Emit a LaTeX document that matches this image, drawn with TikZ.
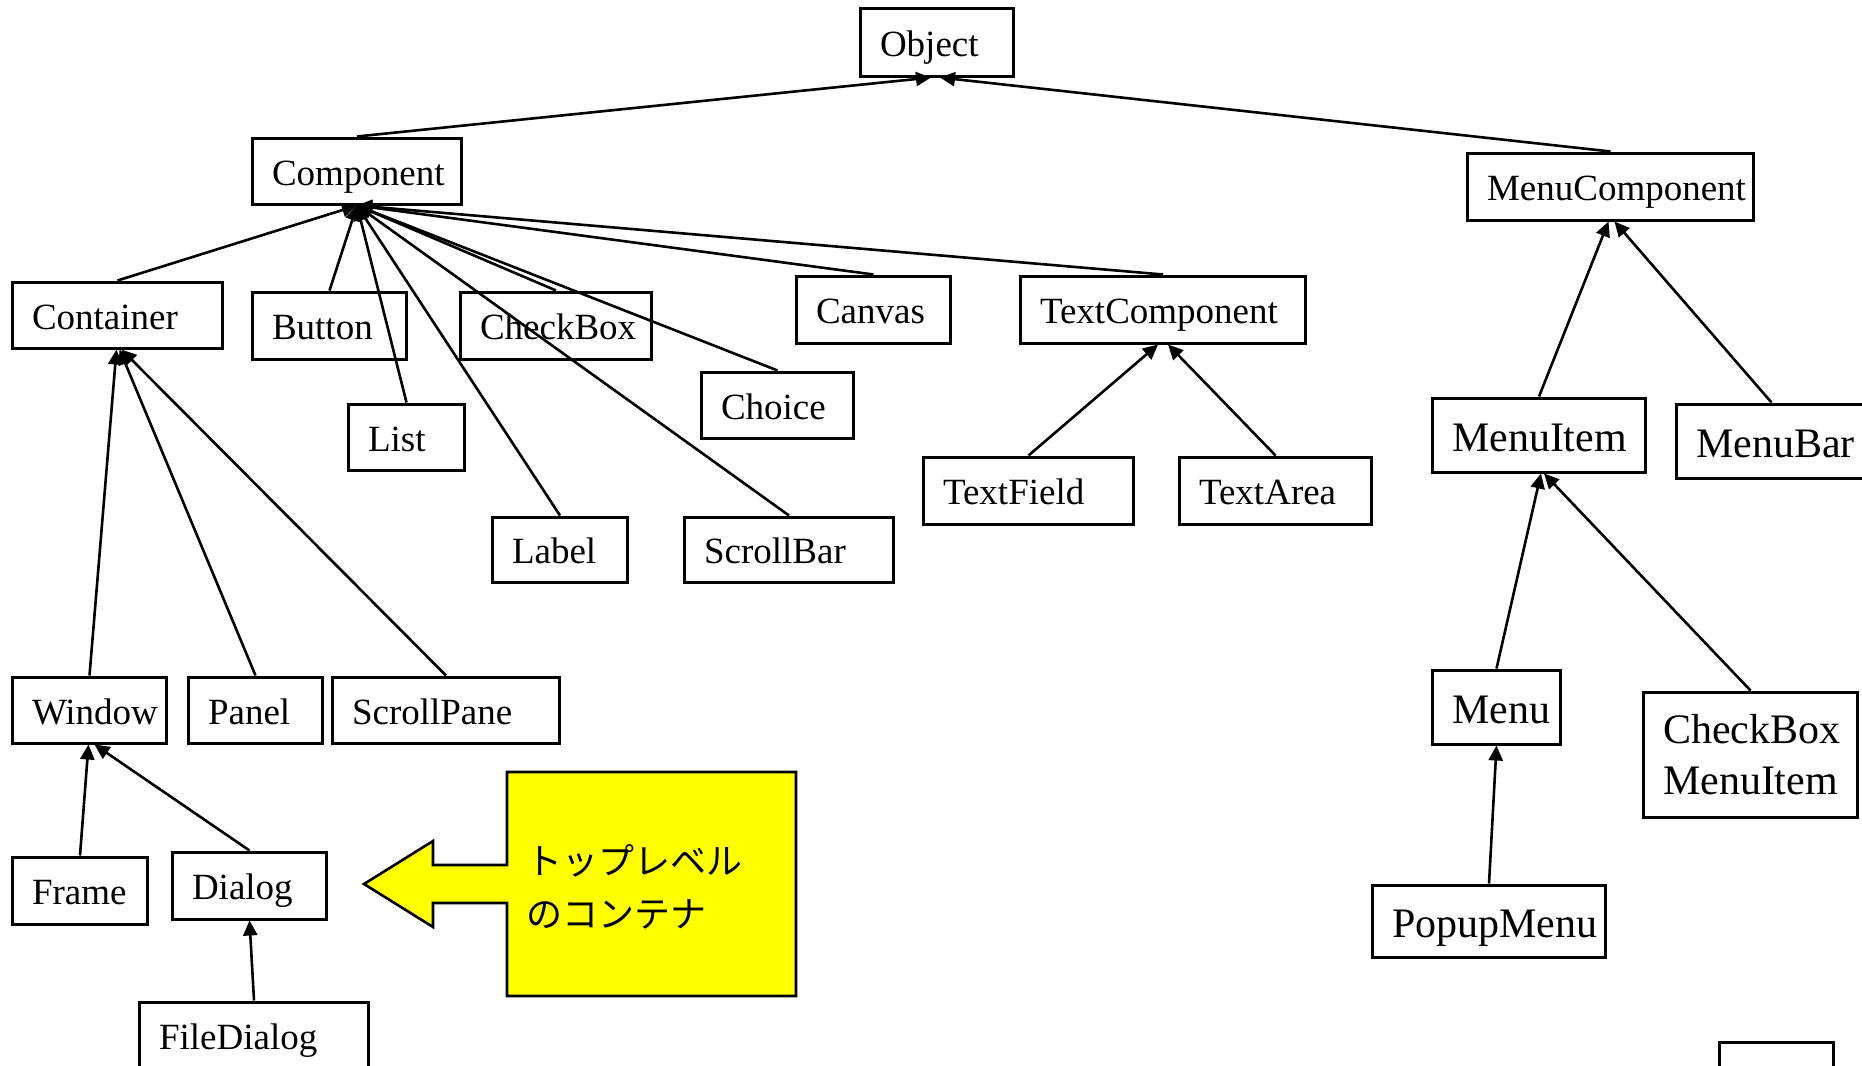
\documentclass[tikz,border=0pt]{standalone}
\usepackage{fontspec}
\setmainfont{Liberation Serif}
\newfontfamily\jpfont{Noto Sans CJK JP}
\usetikzlibrary{arrows.meta}
\definecolor{calloutyellow}{RGB}{255,255,0}
\newcommand\classbox[7]{%
  \pgfmathsetmacro\cbw{#4-#2}%
  \pgfmathsetmacro\cbh{#5-#3}%
  \pgfmathsetmacro\cbt{#4-#2-39}%
  \pgfmathsetmacro\cbx{(#2+#4)/2+0.5}%
  \pgfmathsetmacro\cby{(#3+#5)/2}%
  \node[#6, minimum width=\cbw pt, minimum height=\cbh pt, text width=\cbt pt] (#1) at (\cbx,\cby) {#7};}
\begin{document}
\begin{tikzpicture}[x=1pt,y=-1pt,
  box/.style={draw, line width=3pt, rectangle, inner xsep=19.5pt, inner ysep=0pt, align=left},
  sm/.style={box, font=\fontsize{37}{44}\selectfont, text height=28.5pt, text depth=0pt},
  lg/.style={box, font=\fontsize{42}{51}\selectfont, text height=32.5pt, text depth=0pt},
  lgtwo/.style={box, font=\fontsize{42}{51}\selectfont},
  edge/.style={line width=2.6pt, -{Triangle[length=15pt,width=14pt]}},
  callout/.style={line width=2.6pt, fill=calloutyellow, draw=black, line join=miter}]
\useasboundingbox (0,0) rectangle (1862,1065);
% class boxes
\classbox{obj}{860}{9}{1013}{76}{sm}{Object}
\classbox{comp}{252}{138}{461}{204}{sm}{Component}
\classbox{mcomp}{1467}{153}{1753}{220}{sm}{MenuComponent}
\classbox{cont}{12}{282}{222}{348}{sm}{Container}
\classbox{button}{252}{292}{406}{359}{sm}{Button}
\classbox{checkbox}{460}{292}{651}{359}{sm}{CheckBox}
\classbox{canvas}{796}{276}{950}{343}{sm}{Canvas}
\classbox{textcomp}{1020}{276}{1305}{343}{sm}{TextComponent}
\classbox{choice}{701}{372}{853}{438}{sm}{Choice}
\classbox{list}{348}{404}{464}{470}{sm}{List}
\classbox{label}{492}{517}{627}{582}{sm}{Label}
\classbox{scrollbar}{684}{517}{893}{582}{sm}{ScrollBar}
\classbox{textfield}{923}{457}{1133}{524}{sm}{TextField}
\classbox{textarea}{1179}{457}{1371}{524}{sm}{TextArea}
\classbox{window}{12}{677}{166}{743}{sm}{Window}
\classbox{panel}{188}{677}{322}{743}{sm}{Panel}
\classbox{scrollpane}{332}{677}{559}{743}{sm}{ScrollPane}
\classbox{frame}{12}{857}{147}{924}{sm}{Frame}
\classbox{dialog}{172}{852}{326}{919}{sm}{Dialog}
\classbox{filedialog}{139}{1002}{368}{1069}{sm}{FileDialog}
\classbox{menuitem}{1432}{398}{1645}{472}{lg}{MenuItem}
\classbox{menubar}{1676}{404}{1866}{478}{lg}{MenuBar}
\classbox{menu}{1432}{670}{1560}{744}{lg}{Menu}
\classbox{cbmi}{1643}{692}{1857}{817}{lgtwo}{CheckBox\\MenuItem}
\classbox{popup}{1372}{885}{1605}{957}{lg}{PopupMenu}
\draw[line width=3pt] (1719,1085) -- (1719,1042) -- (1833,1042) -- (1833,1085);
% connectors
\draw[edge] (comp.north) -- ([xshift=-6pt]obj.south);
\draw[edge] (mcomp.north) -- ([xshift=3pt]obj.south);
\foreach \c in {cont,button,list,label,checkbox,scrollbar,choice,canvas,textcomp}
  \draw[edge] (\c.north) -- (comp.south);
\draw[edge] (window.north) -- ([xshift=-1pt]cont.south);
\draw[edge] (panel.north) -- ([xshift=2pt]cont.south);
\draw[edge] (scrollpane.north) -- ([xshift=4pt]cont.south);
\draw[edge] (frame.north) -- ([xshift=-1pt]window.south);
\draw[edge] (dialog.north) -- ([xshift=5pt]window.south);
\draw[edge] (filedialog.north) -- (dialog.south);
\draw[edge] (textfield.north) -- ([xshift=-5pt]textcomp.south);
\draw[edge] (textarea.north) -- ([xshift=5pt]textcomp.south);
\draw[edge] (menuitem.north) -- ([xshift=-2pt]mcomp.south);
\draw[edge] (menubar.north) -- ([xshift=4pt]mcomp.south);
\draw[edge] (menu.north) -- ([xshift=2pt]menuitem.south);
\draw[edge] (cbmi.north) -- ([xshift=5pt]menuitem.south);
\draw[edge] (popup.north) -- (menu.south);
% callout
\draw[callout] (796,772) -- (507,772) -- (507,865) -- (433,865) -- (433,841) -- (364,884)
  -- (433,927) -- (433,903) -- (507,903) -- (507,996) -- (796,996) -- cycle;
\node[anchor=west, align=left, inner sep=0pt, font=\jpfont\fontsize{36}{53}\selectfont] (note) at (526,887) {トップレベル\\のコンテナ};
\end{tikzpicture}
\end{document}
